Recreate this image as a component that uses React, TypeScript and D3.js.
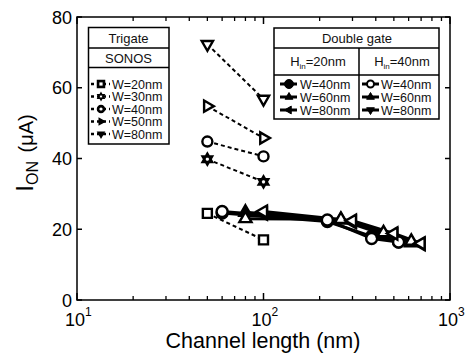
import React from "react";
import * as d3 from "d3";

// ---------- data ----------
const trigateL = [50, 100];
const triW20 = [24.5, 17.0];
const triW30 = [39.8, 33.4];
const triW40 = [44.8, 40.6];
const triW50 = [54.8, 45.8];
const triW80 = [72.3, 56.8];

const dgL40 = [60, 220, 380, 530];
const dgL60 = [80, 260, 440, 620];
const dgL80 = [100, 300, 500, 700];
const dgH20W40 = [24.6, 22.2, 18.0, 16.4];
const dgH20W60 = [24.8, 22.6, 18.6, 16.2];
const dgH20W80 = [24.4, 22.0, 18.4, 15.8];
const dgH40W40 = [25.0, 22.6, 17.4, 16.4];
const dgH40W60 = [23.0, 22.8, 19.0, 16.6];
const dgH40W80 = [25.0, 22.4, 18.8, 16.0];

const yTicks = [0, 20, 40, 60, 80];
const xDecades = [1, 2, 3];
const trigateLabels = ["W=20nm", "W=30nm", "W=40nm", "W=50nm", "W=80nm"];
const dgLabels = ["W=40nm", "W=60nm", "W=80nm"];

// ---------- helpers ----------
type Shape = "square" | "star" | "circle" | "tright" | "tdown" | "tup" | "tleft";

function tri(r: number, angleDeg: number) {
  const pts = [0, 120, 240].map((a) => {
    const t = ((a + angleDeg - 90) * Math.PI) / 180;
    return [r * Math.cos(t), r * Math.sin(t)];
  });
  return "M" + pts.map((p) => p[0].toFixed(2) + "," + p[1].toFixed(2)).join("L") + "Z";
}
function shapePath(shape: Shape, r: number) {
  switch (shape) {
    case "square":
      return `M${-r},${-r}H${r}V${r}H${-r}Z`;
    case "circle":
      return `M${r},0A${r},${r} 0 1,1 ${-r},0A${r},${r} 0 1,1 ${r},0Z`;
    case "tup":
      return tri(r, 0);
    case "tright":
      return tri(r, 90);
    case "tdown":
      return tri(r, 180);
    case "tleft":
      return tri(r, 270);
    case "star":
      return tri(r, 0) + tri(r, 180);
  }
}

function Marker({ x, y, shape, r, filled, sw = 2.2 }: any) {
  return (
    <path
      d={shapePath(shape, r)}
      transform={`translate(${x},${y})`}
      fill={filled ? "#000" : "#fff"}
      stroke="#000"
      strokeWidth={sw}
      strokeLinejoin="miter"
    />
  );
}

export default function App() {
  const W = 466,
    H = 353;
  const x = d3.scaleLog().domain([10, 1000]).range([77, 450]);
  const y = d3.scaleLinear().domain([0, 80]).range([300, 17]);
  const [x0, x1] = x.range();
  const [y0, y1] = y.range();

  const line = d3
    .line<[number, number]>()
    .x((d) => x(d[0]))
    .y((d) => y(d[1]));

  const minorX: number[] = [];
  for (let dec = 10; dec < 1000; dec *= 10)
    for (let k = 2; k <= 9; k++) minorX.push(k * dec);

  const trigate = [
    { v: triW20, shape: "square", r: 4.5 },
    { v: triW30, shape: "star", r: 5.5 },
    { v: triW40, shape: "circle", r: 5 },
    { v: triW50, shape: "tright", r: 6.5 },
    { v: triW80, shape: "tdown", r: 6.5 },
  ];

  const dgLines = [
    { L: dgL40, v: dgH20W40 },
    { L: dgL60, v: dgH20W60 },
    { L: dgL80, v: dgH20W80 },
    { L: dgL40, v: dgH40W40 },
    { L: dgL60, v: dgH40W60 },
    { L: dgL80, v: dgH40W80 },
  ];
  const dgMarks = [
    { L: dgL40, v: dgH20W40, shape: "circle", r: 5.5, filled: true },
    { L: dgL60, v: dgH20W60, shape: "tup", r: 7, filled: true },
    { L: dgL80, v: dgH20W80, shape: "tleft", r: 7, filled: true },
    { L: dgL40, v: dgH40W40, shape: "circle", r: 5.5, filled: false },
    { L: dgL60, v: dgH40W60, shape: "tup", r: 7, filled: false },
    { L: dgL80, v: dgH40W80, shape: "tleft", r: 7, filled: false },
  ];

  const font = "Liberation Sans, Arial, sans-serif";

  return (
    <svg
      width={W}
      height={H}
      style={{ position: "absolute", left: 0, top: 0, background: "#fff" }}
      fontFamily={font}
    >
      <rect x={0} y={0} width={W} height={H} fill="#fff" />
      {/* axes frame */}
      <rect x={x0} y={y1} width={x1 - x0} height={y0 - y1} fill="none" stroke="#000" strokeWidth={1.5} />
      {/* y ticks */}
      {yTicks.map((t) => (
        <g key={"y" + t}>
          <line x1={x0} x2={x0 + 5} y1={y(t)} y2={y(t)} stroke="#000" strokeWidth={1.5} />
          <line x1={x1} x2={x1 - 5} y1={y(t)} y2={y(t)} stroke="#000" strokeWidth={1.5} />
          <text x={72} y={y(t) + 6.5} fontSize={18} textAnchor="end" fill="#000">
            {t}
          </text>
        </g>
      ))}
      {/* x ticks */}
      {minorX.map((t) => (
        <g key={"mx" + t}>
          <line x1={x(t)} x2={x(t)} y1={y0} y2={y0 - 4} stroke="#000" strokeWidth={1.3} />
          <line x1={x(t)} x2={x(t)} y1={y1} y2={y1 + 4} stroke="#000" strokeWidth={1.3} />
        </g>
      ))}
      {xDecades.map((e) => {
        const px = x(Math.pow(10, e));
        return (
          <g key={"dx" + e}>
            <line x1={px} x2={px} y1={y0} y2={y0 - 7} stroke="#000" strokeWidth={1.5} />
            <line x1={px} x2={px} y1={y1} y2={y1 + 7} stroke="#000" strokeWidth={1.5} />
            <text x={px - 12} y={326} fontSize={18} fill="#000">
              10
              <tspan fontSize={12} dy={-10}>
                {e}
              </tspan>
            </text>
          </g>
        );
      })}
      {/* axis titles */}
      <text x={263} y={348} fontSize={21.5} textAnchor="middle" fill="#000">
        Channel length (nm)
      </text>
      <text transform="translate(33,153) rotate(-90)" fontSize={24} textAnchor="middle" fill="#000">
        I<tspan fontSize={16} dy={5}>ON</tspan>
        <tspan fontSize={20} dy={-5} dx={3}> (μA)</tspan>
      </text>

      {/* trigate dashed lines */}
      {trigate.map((s, i) => (
        <path
          key={"tl" + i}
          d={line(trigateL.map((L, j) => [L, s.v[j]]) as any) || ""}
          fill="none"
          stroke="#000"
          strokeWidth={2}
          strokeDasharray="4,3"
        />
      ))}
      {/* double gate solid lines */}
      {dgLines.map((s, i) => (
        <path
          key={"dl" + i}
          d={line(s.L.map((L, j) => [L, s.v[j]]) as any) || ""}
          fill="none"
          stroke="#000"
          strokeWidth={3}
          strokeLinejoin="round"
        />
      ))}
      {/* trigate markers */}
      {trigate.map((s, i) =>
        trigateL.map((L, j) => (
          <Marker key={"tm" + i + j} x={x(L)} y={y(s.v[j])} shape={s.shape} r={s.r} filled={false} sw={2.4} />
        ))
      )}
      {/* double gate markers */}
      {dgMarks.map((s, i) =>
        s.L.map((L, j) => (
          <Marker key={"dm" + i + j} x={x(L)} y={y(s.v[j])} shape={s.shape} r={s.r} filled={s.filled} sw={2.4} />
        ))
      )}

      {/* Trigate legend */}
      <g>
        <rect x={88.5} y={27.5} width={80.5} height={116.5} fill="#fff" stroke="#000" strokeWidth={1.5} />
        <line x1={88.5} x2={169} y1={48} y2={48} stroke="#000" strokeWidth={1.5} />
        <line x1={88.5} x2={169} y1={67.5} y2={67.5} stroke="#000" strokeWidth={1.5} />
        <text x={128.5} y={43} fontSize={13} textAnchor="middle" fill="#111">
          Trigate
        </text>
        <text x={128.5} y={63} fontSize={13} textAnchor="middle" fill="#111">
          SONOS
        </text>
        {trigateLabels.map((lab, i) => {
          const ly = 84 + i * 12.5;
          const s = trigate[i];
          return (
            <g key={"tlg" + i}>
              <line x1={91} x2={110} y1={ly} y2={ly} stroke="#000" strokeWidth={2.5} strokeDasharray="3,3" />
              <Marker x={101} y={ly} shape={s.shape} r={3.5} filled={true} sw={1.5} />
              {s.shape !== "tright" && s.shape !== "tdown" && (
                <Marker x={101} y={ly} shape={s.shape} r={1.6} filled={false} sw={0} />
              )}
              <text x={112} y={ly + 4.5} fontSize={12.5} fill="#111">
                {lab}
              </text>
            </g>
          );
        })}
      </g>

      {/* Double gate legend */}
      <g>
        <rect x={274} y={28} width={165} height={91} fill="#fff" stroke="#000" strokeWidth={1.5} />
        <line x1={274} x2={439} y1={48} y2={48} stroke="#000" strokeWidth={1.5} />
        <line x1={274} x2={439} y1={75} y2={75} stroke="#000" strokeWidth={1.5} />
        <line x1={359} x2={359} y1={48} y2={119} stroke="#000" strokeWidth={1.5} />
        <text x={357} y={43} fontSize={13} textAnchor="middle" fill="#111">
          Double gate
        </text>
        <text x={318} y={66} fontSize={13} textAnchor="middle" fill="#111">
          H<tspan fontSize={8} dy={3}>in</tspan>
          <tspan dy={-3}>=20nm</tspan>
        </text>
        <text x={402} y={66} fontSize={13} textAnchor="middle" fill="#111">
          H<tspan fontSize={8} dy={3}>in</tspan>
          <tspan dy={-3}>=40nm</tspan>
        </text>
        {dgLabels.map((lab, i) => {
          const ly = 84 + i * 13;
          const left = dgMarks[i];
          const rightShapes: Shape[] = ["circle", "tup", "tdown"];
          return (
            <g key={"dlg" + i}>
              <line x1={280} x2={297} y1={ly} y2={ly} stroke="#000" strokeWidth={3} />
              <Marker x={289} y={ly} shape={left.shape} r={4.5} filled={true} sw={1} />
              <text x={300} y={ly + 4.5} fontSize={12.5} fill="#111">
                {lab}
              </text>
              <line x1={362} x2={379} y1={ly} y2={ly} stroke="#000" strokeWidth={3} />
              <Marker x={370.5} y={ly} shape={rightShapes[i]} r={i === 0 ? 3.5 : 4.5} filled={i !== 0} sw={i === 0 ? 2 : 1} />
              <text x={381} y={ly + 4.5} fontSize={12.5} fill="#111">
                {lab}
              </text>
            </g>
          );
        })}
      </g>
    </svg>
  );
}
